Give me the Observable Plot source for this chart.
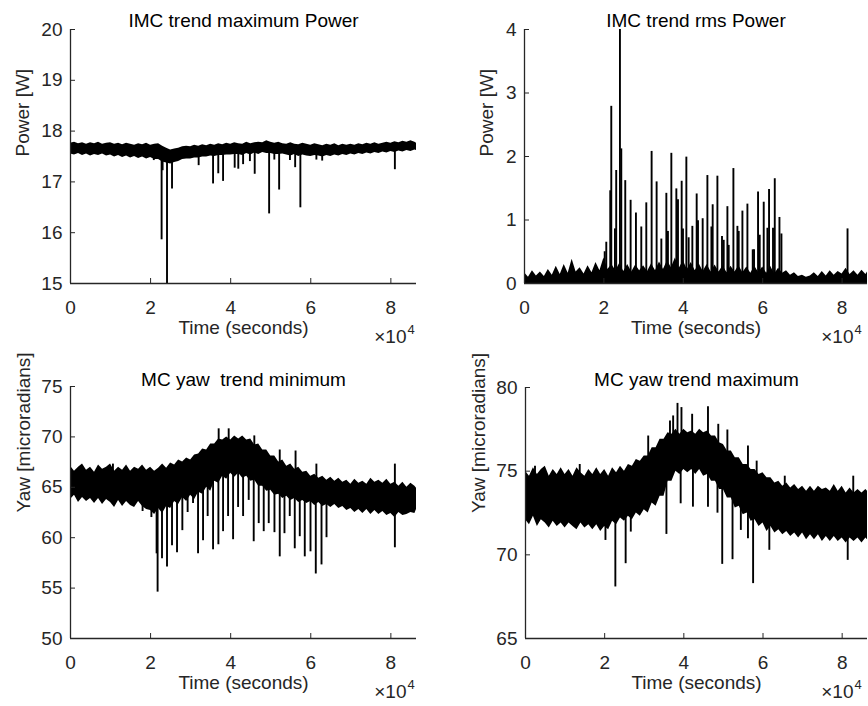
<!DOCTYPE html>
<html><head><meta charset="utf-8">
<script src="https://cdn.jsdelivr.net/npm/d3@7"></script>
<script src="https://cdn.jsdelivr.net/npm/@observablehq/plot@0.6"></script>
<style>
html,body{margin:0;padding:0;background:#fff;}
#chart{position:relative;width:868px;height:706px;overflow:hidden;background:#fff;font-family:"Liberation Sans",Arial,sans-serif;}
.cell{position:absolute;}
.cell svg{overflow:visible;}
</style></head><body><div id="chart"></div>
<script>
// sample times (thousands of seconds)
const tk = [0,1,2,3,4,5,6,7,8,9,10,11,12,13,14,15,16,17,18,19,20,21,22,23,24,25,26,27,28,29,
30,31,32,33,34,35,36,37,38,39,40,41,42,43,44,45,46,47,48,49,50,51,52,53,54,55,56,57,58,59,
60,61,62,63,64,65,66,67,68,69,70,71,72,73,74,75,76,77,78,79,80,81,82,83,84,85,86,86.4];

const xTicks = [0,2,4,6,8]; // ×10^4

// Panel 1: IMC trend maximum Power (band upper / lower edge, W)
const p1Hi = [17.76,17.78,17.75,17.77,17.74,17.77,17.75,17.78,17.74,17.76,
17.77,17.74,17.76,17.73,17.76,17.74,17.72,17.75,17.73,17.76,
17.72,17.74,17.75,17.70,17.66,17.63,17.65,17.66,17.69,17.70,
17.69,17.72,17.70,17.73,17.71,17.74,17.72,17.75,17.73,17.76,
17.74,17.77,17.75,17.74,17.78,17.75,17.77,17.78,17.77,17.81,
17.78,17.76,17.78,17.75,17.74,17.77,17.74,17.73,17.76,17.74,
17.72,17.75,17.73,17.71,17.74,17.72,17.75,17.71,17.74,17.72,
17.74,17.72,17.75,17.73,17.76,17.74,17.77,17.74,17.76,17.78,
17.76,17.79,17.77,17.80,17.78,17.81,17.78,17.76];
const p1Lo = [17.55,17.53,17.56,17.52,17.55,17.51,17.54,17.52,17.55,17.51,
17.53,17.49,17.52,17.48,17.51,17.47,17.50,17.46,17.49,17.45,
17.48,17.44,17.44,17.39,17.37,17.35,17.38,17.40,17.44,17.45,
17.45,17.47,17.47,17.49,17.49,17.51,17.50,17.52,17.52,17.53,
17.53,17.54,17.54,17.52,17.56,17.53,17.57,17.54,17.58,17.56,
17.56,17.54,17.54,17.55,17.53,17.51,17.54,17.50,17.53,17.51,
17.50,17.52,17.51,17.49,17.52,17.50,17.53,17.51,17.54,17.52,
17.55,17.53,17.56,17.54,17.57,17.55,17.58,17.56,17.59,17.57,
17.60,17.58,17.61,17.59,17.62,17.60,17.63,17.62];
const p1Spikes = [[20800,17.42],[22750,15.86],[23000,17.22],[24100,15.0],[25350,16.86],[32000,17.32],
[35600,16.96],[36900,17.16],[38100,17.01],[41000,17.27],[41900,17.25],[43100,17.34],[44800,17.40],
[46000,17.15],[49600,16.37],[50900,17.43],[52100,16.84],[54800,17.42],[56100,17.28],[57400,16.49],
[61400,17.43],[62850,17.41],[81000,17.24]];

// Panel 2: IMC trend rms Power (band top above zero, W)
const p2Hi = [0.17,0.10,0.20,0.12,0.18,0.11,0.22,0.13,0.27,0.14,
0.30,0.16,0.38,0.18,0.25,0.15,0.28,0.17,0.33,0.20,
0.40,0.22,0.30,0.20,0.32,0.19,0.30,0.18,0.29,0.20,
0.28,0.19,0.31,0.20,0.34,0.22,0.36,0.25,0.40,0.24,
0.36,0.22,0.33,0.20,0.31,0.19,0.30,0.18,0.29,0.18,
0.28,0.17,0.27,0.18,0.28,0.17,0.26,0.16,0.27,0.17,
0.26,0.16,0.27,0.15,0.24,0.16,0.20,0.13,0.17,0.11,
0.13,0.10,0.12,0.17,0.11,0.19,0.12,0.20,0.13,0.19,
0.15,0.24,0.14,0.20,0.13,0.21,0.14,0.18];
const p2Spikes = [[20200,0.50],[20600,0.65],[21600,1.46],[21860,2.79],[22780,0.86],[23100,1.78],
[24040,4.0],[24380,2.12],[25380,1.62],[26730,1.31],[28070,1.11],[29420,0.89],[30680,1.27],
[32020,2.08],[33280,1.60],[34470,0.70],[35730,1.42],[36130,0.82],[36990,2.05],[38250,1.49],
[38660,1.32],[39590,1.61],[39920,0.86],[40770,1.99],[41350,0.72],[42280,0.90],[43370,1.41],
[43700,0.99],[44880,1.02],[46070,1.70],[47080,0.89],[47400,1.24],[48590,1.69],[49750,0.74],
[50180,0.68],[51110,1.21],[51440,0.60],[52620,1.81],[53630,0.90],[53960,0.82],[54890,1.14],
[56150,1.25],[57490,0.53],[57820,0.53],[58830,1.44],[59250,0.76],[60260,1.28],[61190,0.87],
[61600,1.48],[62600,0.87],[63040,1.65],[64220,1.04],[64720,0.78],[81370,0.86]];

// Panel 3: MC yaw trend minimum (microradians)
const p3Hi = [67.1,66.6,67.0,67.3,66.7,67.0,66.5,67.2,66.8,67.0,
67.3,66.6,67.0,66.7,67.2,66.6,67.0,66.8,67.2,66.7,
67.0,66.6,66.9,67.3,66.9,67.4,67.2,67.7,67.5,67.9,
67.7,68.2,68.3,68.8,68.7,69.3,69.3,69.8,69.7,70.0,
69.7,70.1,69.8,70.1,69.7,69.8,69.2,69.3,68.7,68.7,
68.1,68.1,67.5,67.7,67.1,67.3,66.8,67.0,66.5,66.6,
66.1,66.3,65.9,66.1,65.7,66.0,65.6,65.9,65.5,65.7,
65.3,65.8,65.4,65.6,65.3,65.9,65.5,65.7,65.4,65.8,
65.3,65.5,65.1,65.5,65.0,65.4,65.1,64.9];
const p3Lo = [63.8,64.2,63.5,64.0,63.6,63.9,63.4,63.9,63.3,63.8,
63.5,63.0,63.7,63.1,63.6,63.2,63.0,63.6,63.1,62.8,
62.7,62.3,62.9,62.4,63.1,62.9,63.6,63.3,64.0,63.6,
64.2,63.8,64.5,64.3,65.0,64.6,65.6,65.4,66.1,65.8,
66.4,66.0,66.4,65.9,66.1,65.6,65.7,65.1,65.1,64.6,
64.7,64.2,64.3,63.9,64.1,63.7,63.9,63.5,63.7,63.4,
63.6,63.2,63.5,63.1,63.3,63.0,63.3,62.9,63.1,62.7,
62.9,62.5,62.8,62.4,62.8,62.3,62.7,62.3,62.6,62.2,
62.4,62.0,62.5,62.2,62.3,62.5,62.4,62.8];
const p3Spikes = [[18000,62.6],[20200,62.0],[21500,58.4],[21750,54.6],[22850,57.9],[24100,57.1],
[25350,59.2],[26600,58.5],[27930,60.7],[29250,62.5],[30600,63.4],[31850,58.4],[33100,59.7],
[34250,62.1],[35600,58.8],[36930,59.3],[38100,60.6],[39350,62.1],[40600,59.8],[41850,63.0],
[43100,62.1],[44500,63.7],[45750,59.6],[47000,61.4],[48250,60.6],[49500,61.4],[50930,60.5],
[52250,58.1],[53430,60.4],[54750,62.1],[56000,58.9],[57250,60.1],[58500,58.1],[59930,58.6],
[61250,56.4],[62680,57.3],[63930,60.0],[81000,59.0],
[10600,67.3],[37000,70.8],[39500,70.8],[45900,70.1],[52250,68.7],[56200,68.6],[61400,67.3],[81000,67.3]];

// Panel 4: MC yaw trend maximum (microradians)
const p4Hi = [75.0,74.7,75.2,74.8,75.1,75.3,74.7,75.1,74.8,75.2,
74.8,75.1,74.7,75.2,74.9,74.7,75.1,74.8,75.2,74.8,
75.1,74.7,75.2,74.9,75.3,75.0,75.4,75.3,75.7,75.6,
75.9,75.9,76.4,76.4,76.9,76.9,77.3,77.2,77.5,77.2,
77.5,77.3,77.4,77.2,77.5,77.3,77.4,77.1,77.1,76.7,
76.6,76.2,76.2,75.8,75.8,75.4,75.4,75.1,75.1,74.8,
74.9,74.6,74.6,74.3,74.4,74.1,74.3,74.0,74.2,73.9,
74.1,73.8,74.1,73.8,74.1,73.9,74.0,73.8,74.2,73.8,
74.1,73.7,74.0,73.7,73.9,73.7,73.9,73.8];
const p4Lo = [72.1,71.8,72.3,71.7,72.1,71.9,71.6,72.0,71.7,71.9,
71.6,71.9,71.7,71.5,71.9,71.6,71.8,71.5,71.8,71.4,
71.7,71.5,72.0,71.8,72.2,72.0,72.3,72.1,72.5,72.3,
72.7,72.5,73.1,72.9,73.5,73.5,74.4,74.4,75.0,74.8,
75.1,74.9,75.1,74.8,75.1,74.7,74.8,74.4,74.4,73.9,
73.9,73.4,73.4,72.8,72.9,72.4,72.5,72.0,72.1,71.7,
71.9,71.4,71.7,71.3,71.5,71.2,71.4,71.1,71.3,71.0,
71.3,70.9,71.2,70.9,71.2,70.8,71.1,70.8,71.1,70.8,
71.0,70.7,71.0,70.8,71.0,70.7,71.0,70.9];
const p4Spikes = [[2400,75.3],[13700,75.4],[31000,77.1],[36500,78.0],[37300,78.3],[38400,79.05],
[39400,78.8],[42100,78.4],[46100,78.85],[48700,77.8],[51000,77.46],[56200,76.5],[58400,75.6],
[65500,74.7],[82800,74.7],
[20200,70.86],[22700,68.08],[25300,69.47],[26600,71.36],[35600,71.22],[39200,73.05],[42300,72.85],
[46100,72.85],[48500,72.49],[49700,69.43],[52300,69.71],[54400,71.46],[56200,70.96],[57500,68.28],
[61600,70.27],[81400,69.67]];

const axisColor = "#262626";
const font = "'Liberation Sans', Arial, Helvetica, sans-serif";

function panel(o) {
  const rows = tk.map((k, i) => ({t: k * 1000, hi: o.hi[i], lo: o.lo ? o.lo[i] : 0}));
  const base = t => {
    const i = Math.min(rows.length - 1, Math.round(t / 1000));
    return o.lo ? (rows[i].hi + rows[i].lo) / 2 : 0;
  };
  const sp = o.spikes.map(([t, v]) => ({t, v, b: base(t)}));
  const y0 = o.yDomain[0];
  const svg = Plot.plot({
    width: 434, height: 353,
    marginLeft: o.mL, marginRight: o.mR, marginTop: o.mT, marginBottom: o.mB,
    style: {fontFamily: font, fontSize: "19px", color: axisColor, background: "transparent", overflow: "visible"},
    x: {domain: [0, 86400]},
    y: {domain: o.yDomain},
    marks: [
      Plot.areaY(rows, {x: "t", y1: "lo", y2: "hi", fill: "#000", curve: "linear"}),
      Plot.ruleX(sp, {x: "t", y1: "b", y2: "v", stroke: "#000", strokeWidth: 1.9}),
      Plot.ruleX([0], {stroke: axisColor, strokeWidth: 1.3}),
      Plot.ruleY([y0], {stroke: axisColor, strokeWidth: 1.3}),
      Plot.axisX(xTicks.map(d => d * 1e4), {tickSize: -5, tickPadding: 22, tickFormat: d => String(d / 1e4), label: null, stroke: axisColor, fill: axisColor}),
      Plot.axisY(o.yTicks, {tickSize: -5, tickPadding: 13, tickFormat: d => String(d), label: null, stroke: axisColor, fill: axisColor}),
      Plot.text([o.title], {frameAnchor: "top", dy: o.titleDy, fill: "#000"}),
      Plot.text([o.ylabel], {frameAnchor: "left", rotate: -90, dx: o.ylabDx, fill: axisColor}),
      Plot.text(["Time (seconds)"], {frameAnchor: "bottom", dy: 50, fill: axisColor}),
      Plot.text(["×10"], {frameAnchor: "bottom-right", dy: 59, dx: o.expDx, textAnchor: "end", fill: axisColor}),
      Plot.text(["4"], {frameAnchor: "bottom-right", dy: 50, dx: o.expDx + 1, textAnchor: "start", fontSize: 13, fill: axisColor})
    ]
  });
  const div = document.createElement("div");
  div.className = "cell";
  div.style.left = o.left + "px";
  div.style.top = o.top + "px";
  div.appendChild(svg);
  document.getElementById("chart").appendChild(div);
}

panel({hi: p1Hi, lo: p1Lo, spikes: p1Spikes, yDomain: [15, 20], yTicks: [15,16,17,18,19,20],
  title: "IMC trend maximum Power", ylabel: "Power [W]", left: 0, top: 0,
  mL: 70, mR: 18, mT: 29, mB: 70, titleDy: -16, ylabDx: -48, expDx: -10});
panel({hi: p2Hi, lo: null, spikes: p2Spikes, yDomain: [0, 4], yTicks: [0,1,2,3,4],
  title: "IMC trend rms Power", ylabel: "Power [W]", left: 434, top: 0,
  mL: 90, mR: 1, mT: 29, mB: 70, titleDy: -16, ylabDx: -38, expDx: -14});
panel({hi: p3Hi, lo: p3Lo, spikes: p3Spikes, yDomain: [50, 75], yTicks: [50,55,60,65,70,75],
  title: "MC yaw  trend minimum", ylabel: "Yaw [microradians]", left: 0, top: 353,
  mL: 70, mR: 18, mT: 33, mB: 68, titleDy: -14, ylabDx: -47, expDx: -10});
panel({hi: p4Hi, lo: p4Lo, spikes: p4Spikes, yDomain: [65, 80], yTicks: [65,70,75,80],
  title: "MC yaw trend maximum", ylabel: "Yaw [microradians]", left: 434, top: 353,
  mL: 91, mR: 1, mT: 34, mB: 68, titleDy: -15, ylabDx: -47, expDx: -14});
</script>
</body></html>
